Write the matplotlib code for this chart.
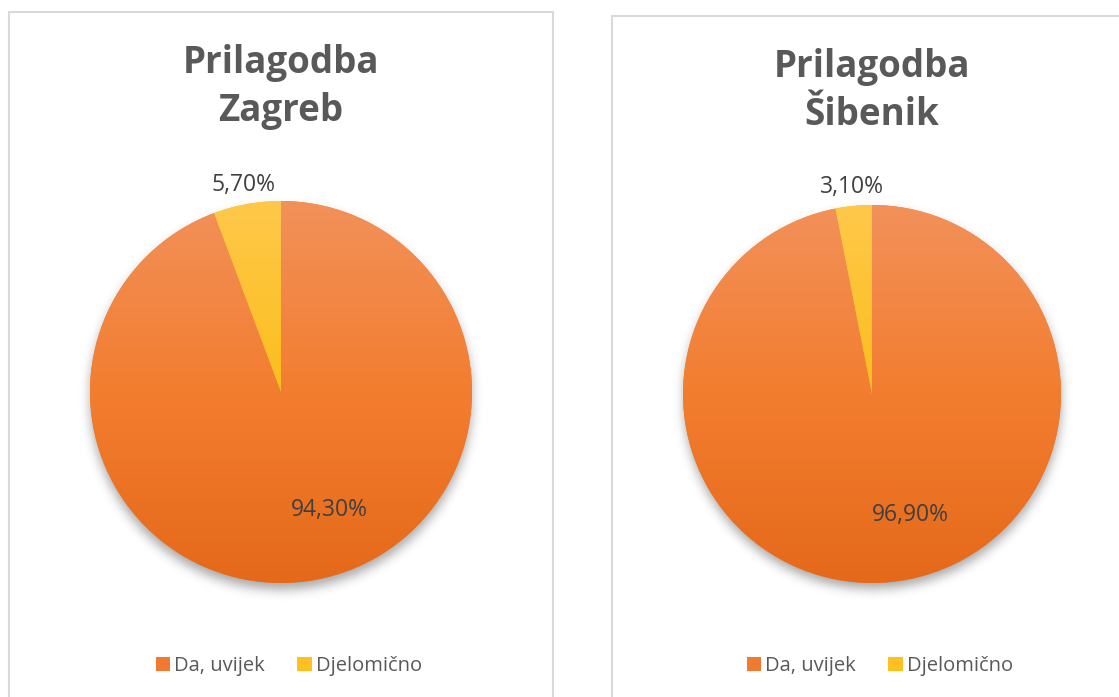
import numpy as np
import matplotlib
matplotlib.use("Agg")
import matplotlib.pyplot as plt
from matplotlib.patches import Rectangle, Patch
from matplotlib.colors import LinearSegmentedColormap

# --- data -------------------------------------------------------------
categories = ["Da, uvijek", "Djelomično"]
titles = ["Prilagodba\nZagreb", "Prilagodba\nŠibenik"]
zagreb_values = [94.3, 5.7]
sibenik_values = [96.9, 3.1]

# --- style ------------------------------------------------------------
FONT = ["Open Sans", "DejaVu Sans"]
TITLE_COLOR = "#595959"
LABEL_COLOR = "#404040"
BORDER_COLOR = "#D9D9D9"
orange_grad = ["#F2915A", "#F37D2F", "#E5691A"]
yellow_grad = ["#FFC84A", "#FBBE1C", "#EDB000"]
legend_colors = ["#F07A30", "#FFC020"]

W, H = 1119, 697
fig = plt.figure(figsize=(W / 100, H / 100), dpi=100)
fig.patch.set_facecolor("white")


def fx(px):
    return px / W


def fy(py):
    return 1 - py / H


# chart panel frames
for x0, y0, x1, y1 in [(9, 12, 553, 705), (612, 16, 1130, 705)]:
    fig.patches.append(Rectangle((fx(x0), fy(y1)), fx(x1) - fx(x0), fy(y0) - fy(y1),
                                 transform=fig.transFigure, fill=False,
                                 edgecolor=BORDER_COLOR, linewidth=1.5, zorder=0))


def gaussian_blur(img, sigma):
    r = int(3 * sigma)
    k = np.exp(-0.5 * (np.arange(-r, r + 1) / sigma) ** 2)
    k /= k.sum()
    out = np.apply_along_axis(lambda m: np.convolve(m, k, mode="same"), 0, img)
    out = np.apply_along_axis(lambda m: np.convolve(m, k, mode="same"), 1, out)
    return out


def draw_pie(cx, cy, r, values, title, title_y):
    lim = 1.15
    size = r * lim * 2
    ax = fig.add_axes([fx(cx - r * lim), fy(cy + r * lim), size / W, size / H])
    ax.axis("off")

    # soft drop shadow beneath the pie
    n = 400
    g = np.linspace(-lim, lim, n)
    X, Y = np.meshgrid(g, g)
    disk = ((X ** 2 + (Y + 0.035) ** 2) <= 1.0).astype(float)
    shadow = gaussian_blur(disk, 5)
    rgba = np.zeros((n, n, 4))
    rgba[..., 3] = shadow * 0.35
    ax.imshow(rgba, extent=(-lim, lim, -lim, lim), origin="lower", zorder=0)

    wedges, _ = ax.pie(values, startangle=90, counterclock=False, radius=1.0,
                       colors=[orange_grad[1], yellow_grad[1]],
                       wedgeprops=dict(linewidth=0))
    for w in wedges:
        w.set_zorder(1)

    # vertical gradient fill clipped to each wedge
    grad = np.linspace(1, 0, 256).reshape(-1, 1)
    for w, cols in zip(wedges, [orange_grad, yellow_grad]):
        cmap = LinearSegmentedColormap.from_list("g", cols[::-1])
        im = ax.imshow(grad, extent=(-1, 1, -1, 1), origin="upper", cmap=cmap,
                       aspect="auto", zorder=2, vmin=0, vmax=1)
        im.set_clip_path(w)

    # percentage labels
    for w, v in zip(wedges, values):
        mid = np.deg2rad((w.theta1 + w.theta2) / 2)
        if v > 50:
            ang, dist = mid + np.deg2rad(12), 0.67
        else:
            ang, dist = mid, 1.1
        txt = f"{v:.2f}%".replace(".", ",")
        ax.text(dist * np.cos(ang), dist * np.sin(ang), txt, ha="center",
                va="center", fontsize=16.5, color=LABEL_COLOR, family=FONT, zorder=5)

    ax.set_xlim(-lim, lim)
    ax.set_ylim(-lim, lim)
    ax.set_aspect("equal")

    fig.text(fx(cx), fy(title_y), title, ha="center", va="center", fontsize=26.5,
             fontweight="bold", color=TITLE_COLOR, family=FONT, linespacing=1.35)

    handles = [Patch(facecolor=c, edgecolor="none") for c in legend_colors]
    fig.legend(handles, categories, loc="center", bbox_to_anchor=(fx(cx + 8), fy(666)),
               ncol=2, frameon=False, handlelength=0.7, handleheight=0.7,
               handletextpad=0.2, columnspacing=1.6,
               prop=dict(family=FONT, size=14.5), labelcolor=TITLE_COLOR)


draw_pie(281, 392, 191, zagreb_values, titles[0], 87)
draw_pie(872, 394, 189, sibenik_values, titles[1], 91)

fig.savefig("out.png", dpi=100)
